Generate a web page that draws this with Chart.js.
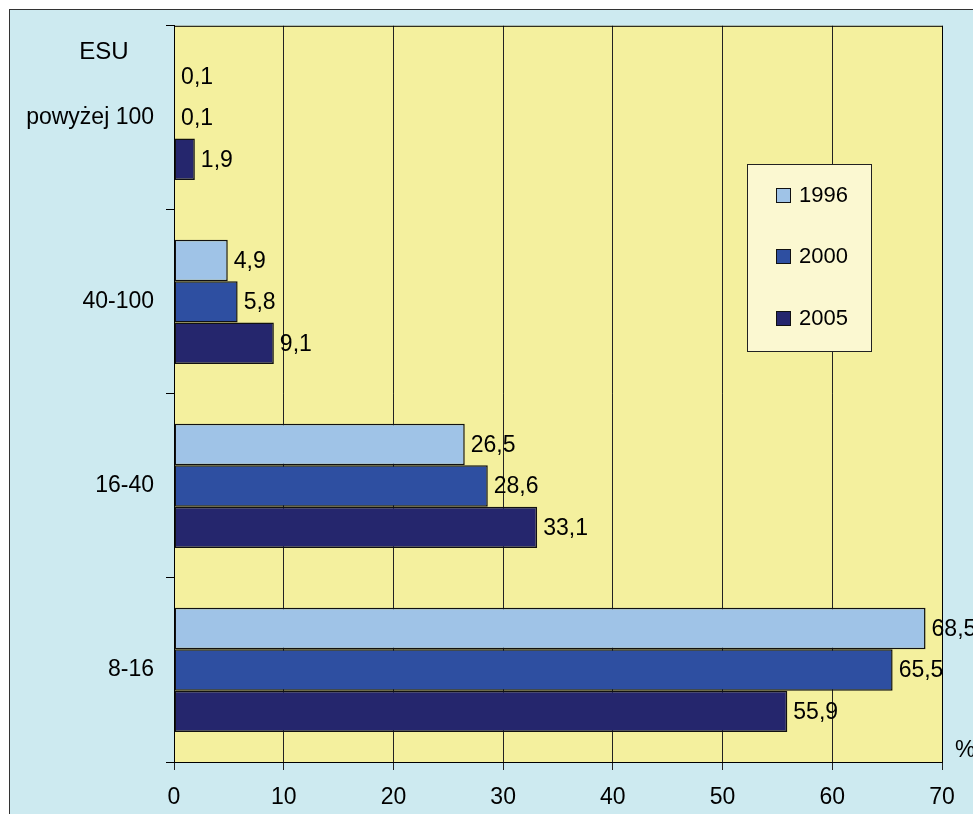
<!DOCTYPE html>
<html>
<head>
<meta charset="utf-8">
<script src="https://cdn.jsdelivr.net/npm/chart.js@4.4.0/dist/chart.umd.min.js"></script>
<style>
    html, body { margin: 0; padding: 0; background: #fff; overflow: hidden; }
    #frame {
        position: absolute; left: 9px; top: 9px; width: 990px; height: 830px;
        background: #cdeaf0; border: 1.5px solid #333;
    }
    #wrap { position: absolute; left: 0; top: 0; width: 973px; height: 814px; }
</style>
</head>
<body>
<div id="frame"></div>
<div id="wrap"><canvas id="chart"></canvas></div>
<script>
const categories = ['powyżej 100', '40-100', '16-40', '8-16'];
const years = ['1996', '2000', '2005'];
const values1996 = [0.1, 4.9, 26.5, 68.5];
const values2000 = [0.1, 5.8, 28.6, 65.5];
const values2005 = [1.9, 9.1, 33.1, 55.9];
const xTicks = [0, 10, 20, 30, 40, 50, 60, 70];

const colors = ['#9fc3e7', '#2e4fa1', '#25266d'];
const FONT = '"Liberation Sans", Arial, sans-serif';
const SIZE = 23;

const extras = {
    id: 'extras',
    beforeDraw(chart) {
        const { ctx, chartArea: a } = chart;
        ctx.save();
        ctx.fillStyle = '#f4f09e';
        ctx.fillRect(a.left, a.top, a.right - a.left, a.bottom - a.top);
        ctx.restore();
    },
    afterDatasetsDraw(chart) {
        const ctx = chart.ctx;
        ctx.save();
        ctx.font = SIZE + 'px ' + FONT;
        ctx.fillStyle = '#000';
        ctx.textAlign = 'left';
        ctx.textBaseline = 'middle';
        chart.data.datasets.forEach((ds, i) => {
            chart.getDatasetMeta(i).data.forEach((bar, j) => {
                const txt = ds.data[j].toFixed(1).replace('.', ',');
                ctx.fillText(txt, bar.x + 6, bar.y + 1);
            });
        });
        ctx.restore();
    },
    afterDraw(chart) {
        const { ctx, chartArea: a } = chart;
        ctx.save();
        ctx.strokeStyle = '#000';
        ctx.lineWidth = 1;
        ctx.strokeRect(a.left + 0.5, a.top + 0.5, a.right - a.left, a.bottom - a.top);

        ctx.font = '24px ' + FONT;
        ctx.fillStyle = '#000';
        ctx.textAlign = 'center';
        ctx.textBaseline = 'middle';
        ctx.fillText('ESU', 104, 52);
        ctx.font = SIZE + 'px ' + FONT;
        ctx.textAlign = 'left';
        ctx.fillText('%', 955, 751);

        // legend box
        const lx = 747, ly = 164, lw = 124, lh = 187;
        ctx.fillStyle = '#fbf8d1';
        ctx.fillRect(lx, ly, lw, lh);
        ctx.strokeStyle = '#222';
        ctx.strokeRect(lx + 0.5, ly + 0.5, lw, lh);
        const rows = [195, 256, 318];
        ctx.font = '22px ' + FONT;
        chart.data.datasets.forEach((ds, i) => {
            ctx.fillStyle = ds.backgroundColor;
            ctx.fillRect(776, rows[i] - 7, 14, 14);
            ctx.strokeStyle = '#111';
            ctx.strokeRect(776.5, rows[i] - 6.5, 14, 14);
            ctx.fillStyle = '#000';
            ctx.fillText(ds.label, 799, rows[i] + 1);
        });
        ctx.restore();
    }
};

new Chart(document.getElementById('chart'), {
    type: 'bar',
    data: {
        labels: categories,
        datasets: [
            { label: years[0], data: values1996, backgroundColor: colors[0] },
            { label: years[1], data: values2000, backgroundColor: colors[1] },
            { label: years[2], data: values2005, backgroundColor: colors[2] }
        ].map(ds => Object.assign(ds, {
            borderColor: '#111',
            borderWidth: 1.5,
            borderSkipped: false,
            categoryPercentage: 0.675,
            barPercentage: 1
        }))
    },
    options: {
        indexAxis: 'y',
        responsive: true,
        maintainAspectRatio: false,
        animation: false,
        layout: { padding: { left: 0, top: 25, right: 31, bottom: 0 } },
        plugins: {
            legend: { display: false },
            tooltip: { enabled: false }
        },
        scales: {
            x: {
                min: 0,
                max: 70,
                afterBuildTicks: scale => { scale.ticks = xTicks.map(v => ({ value: v })); },
                afterFit: scale => { scale.height = 52; },
                grid: { color: '#222', lineWidth: 1, tickLength: 8, drawTicks: true },
                border: { color: '#000', width: 1 },
                ticks: { color: '#000', font: { family: FONT, size: SIZE }, padding: 14 }
            },
            y: {
                afterFit: scale => { scale.width = 174; },
                grid: { offset: true, drawOnChartArea: false, tickLength: 8, color: '#000' },
                border: { color: '#000', width: 1 },
                ticks: { color: '#000', font: { family: FONT, size: SIZE }, padding: 12 }
            }
        }
    },
    plugins: [extras]
});
</script>
</body>
</html>
